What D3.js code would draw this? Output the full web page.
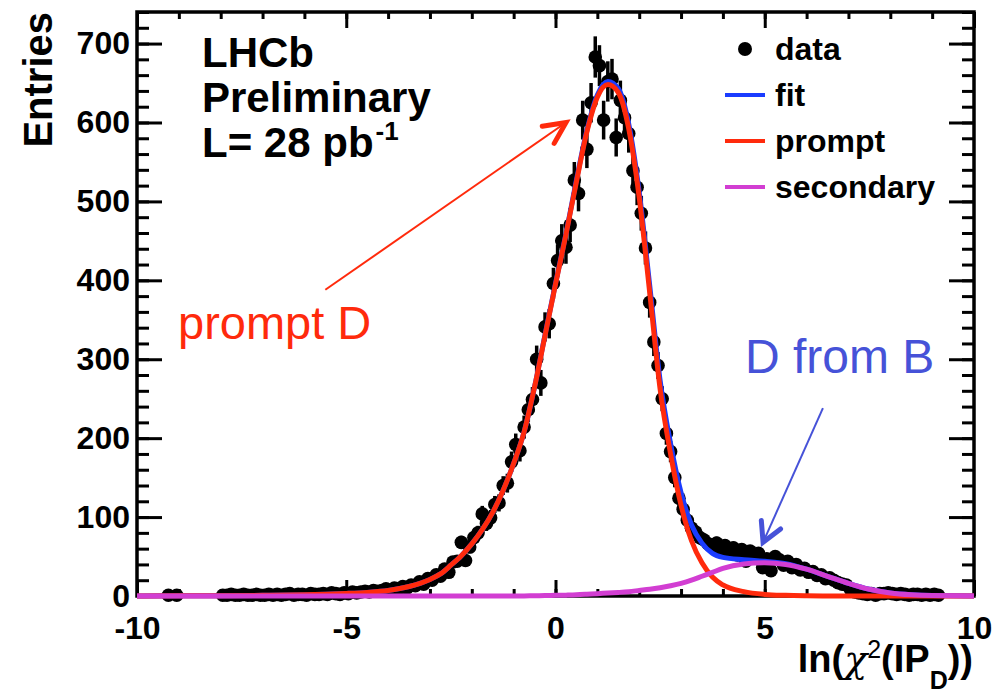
<!DOCTYPE html>
<html><head><meta charset="utf-8">
<script src="https://cdn.jsdelivr.net/npm/d3@7"></script>
<style>
body{margin:0;background:#fff}
svg{display:block}
text{font-family:"Liberation Sans",Arial,Helvetica,sans-serif}
</style>
</head><body>
<svg id="c" width="1002" height="696"></svg>
<script>
// ---------------- data ----------------
// histogram: bin centres start at binStart, width binWidth
const binStart = -9.35;
const binWidth = 0.1;
const dataCounts = [
  0,1,0,1,0,0,0,0,0,0,
  0,0,0,0,1,1,2,1,1,2,
  1,1,2,1,1,2,1,2,1,2,
  3,1,2,2,1,3,2,2,3,2,
  4,3,2,4,3,5,4,5,6,5,
  7,6,7,9,7,10,9,12,10,14,
  13,18,15,22,20,27,25,34,30,43,
  44,68,45,62,74,80,104,92,99,116,
  118,140,143,170,192,184,214,236,249,300,
  270,341,345,396,425,450,442,470,527,510,
  603,566,625,683,672,603,652,655,581,628,
  606,586,539,518,485,441,372,322,292,250,
  206,183,150,124,110,96,86,81,74,71,
  66,63,67,58,64,56,61,52,59,44,
  57,52,54,36,47,32,50,46,39,44,
  36,40,33,35,30,31,26,27,22,23,
  20,17,15,14,8,5,4,3,2,3,
  1,3,3,4,3,2,3,2,1,2,
  2,1,2,1,2,1
];
// fitted curves sampled at curveX
const curveX = [-10,-9,-8,-7,-6,-5.5,-5,-4.5,-4,-3.5,-3,-2.75,-2.5,-2.25,-2,-1.75,-1.5,-1.25,-1,-0.75,-0.5,-0.25,0,0.25,0.5,0.75,1,1.25,1.5,1.75,2,2.25,2.5,2.75,3,3.25,3.5,3.75,4,4.5,5,5.5,6,6.5,7,7.5,8,8.5,9,10];
const fitY = [0,0.2,0.4,0.8,1.5,2.2,3.2,4.6,7,12,21,28,39,51,66,84,106,134,168,208,265,331,396,459,527,590,635,652,643,598,512,394,273,193,131,90,67,54,49,46,44,41,34,25,16,8.5,3.8,1.5,0.5,0];
const promptY = [0,0.2,0.4,0.8,1.5,2.2,3.2,4.6,7,12,21,28,39,51,66,84,106,134,168,208,265,330,395,458,525,588,632,648,638,592,505,385,262,180,115,70,42,24,14,5.5,2,0.8,0.3,0.1,0,0,0,0,0,0];
const secondaryY = [0,0,0,0,0,0,0,0,0,0,0,0,0,0,0,0,0,0,0,0.1,0.3,0.5,0.8,1.1,1.5,2.2,3,3.7,4.5,5.5,7,8.5,10.5,13,16,20,25,30,35,40.5,42,40,34,25,16,8.5,3.8,1.5,0.5,0];

const xMajorTicks = [-10,-5,0,5,10];
const xMinorTicks = [-10,-9,-8,-7,-6,-5,-4,-3,-2,-1,0,1,2,3,4,5,6,7,8,9,10];
const yMajorTicks = [0,100,200,300,400,500,600,700];
const yMinorTicks = d3.range(0,741,20);
const legendLabels = ["data","fit","prompt","secondary"];
const headerLines = ["LHCb","Preliminary","L= 28 pb"];

const colFit = "#1a3cff", colPrompt = "#ff2a0c", colSec = "#d23ed2";
const colBlueNote = "#4652d8";

// ---------------- drawing ----------------
const svg = d3.select("#c");
const L = 137, R = 974, T = 12, B = 596;
const x = d3.scaleLinear().domain([-10,10]).range([L,R]);
const y = d3.scaleLinear().domain([0,740]).range([B,T]);

const data = dataCounts.map((v,i)=>({x: binStart + i*binWidth, v}))
  .filter(d=>d.v>0);

// frame
svg.append("rect").attr("x",L).attr("y",T).attr("width",R-L).attr("height",B-T)
  .attr("fill","none").attr("stroke","#000").attr("stroke-width",3.5);

const fmt = d=>String(d);
function styleAxis(g){
  g.select(".domain").remove();
  g.selectAll(".tick line").attr("stroke","#000").attr("stroke-width",3);
  g.selectAll("text").attr("fill","#000").attr("font-size",32).attr("font-weight","bold")
   .style("font-family",'"Liberation Sans",Arial,Helvetica,sans-serif');
}
// bottom
svg.append("g").attr("transform",`translate(0,${B})`)
  .call(d3.axisBottom(x).tickValues(xMinorTicks).tickSizeInner(-7).tickSizeOuter(0).tickFormat(""))
  .call(styleAxis);
svg.append("g").attr("transform",`translate(0,${B})`)
  .call(d3.axisBottom(x).tickValues(xMajorTicks).tickSizeInner(-16).tickSizeOuter(0).tickPadding(20).tickFormat(fmt))
  .call(styleAxis);
// top
svg.append("g").attr("transform",`translate(0,${T})`)
  .call(d3.axisTop(x).tickValues(xMinorTicks).tickSizeInner(-7).tickSizeOuter(0).tickFormat(""))
  .call(styleAxis);
svg.append("g").attr("transform",`translate(0,${T})`)
  .call(d3.axisTop(x).tickValues(xMajorTicks).tickSizeInner(-16).tickSizeOuter(0).tickFormat(""))
  .call(styleAxis);
// left
svg.append("g").attr("transform",`translate(${L},0)`)
  .call(d3.axisLeft(y).tickValues(yMinorTicks).tickSizeInner(-12).tickSizeOuter(0).tickFormat(""))
  .call(styleAxis);
svg.append("g").attr("transform",`translate(${L},0)`)
  .call(d3.axisLeft(y).tickValues(yMajorTicks).tickSizeInner(-25).tickSizeOuter(0).tickPadding(7).tickFormat(fmt))
  .call(styleAxis);
// right
svg.append("g").attr("transform",`translate(${R},0)`)
  .call(d3.axisRight(y).tickValues(yMinorTicks).tickSizeInner(-12).tickSizeOuter(0).tickFormat(""))
  .call(styleAxis);
svg.append("g").attr("transform",`translate(${R},0)`)
  .call(d3.axisRight(y).tickValues(yMajorTicks).tickSizeInner(-25).tickSizeOuter(0).tickFormat(""))
  .call(styleAxis);

// data points with error bars
const gd = svg.append("g");
gd.selectAll("line.err").data(data).join("line").attr("class","err")
  .attr("x1",d=>x(d.x)).attr("x2",d=>x(d.x))
  .attr("y1",d=>y(d.v-Math.sqrt(d.v))).attr("y2",d=>y(d.v+Math.sqrt(d.v)))
  .attr("stroke","#000").attr("stroke-width",3.5);
gd.selectAll("circle").data(data).join("circle")
  .attr("cx",d=>x(d.x)).attr("cy",d=>y(d.v)).attr("r",6.8).attr("fill","#000");

// curves
const line = d3.line().x(d=>x(d[0])).y(d=>y(d[1])).curve(d3.curveMonotoneX);
function curve(ys,col,w){
  svg.append("path").datum(curveX.map((cx,i)=>[cx,ys[i]]))
    .attr("d",line).attr("fill","none").attr("stroke",col).attr("stroke-width",w)
    .attr("stroke-linejoin","round");
}
curve(fitY,colFit,5);
curve(promptY,colPrompt,5);
curve(secondaryY,colSec,5);

// header text
const hdr = svg.append("text").attr("x",202).attr("y",67).attr("font-size",42).attr("font-weight","bold");
headerLines.forEach((t,i)=>{
  hdr.append("tspan").attr("x",202).attr("y",67+45*i).text(t);
});
hdr.append("tspan").attr("font-size",26).attr("dx",2).attr("dy",-17).text("-1");

// legend
const lg = svg.append("g");
const legY = [49,95,141,187];
lg.append("circle").attr("cx",745).attr("cy",legY[0]).attr("r",7).attr("fill","#000");
[colFit,colPrompt,colSec].forEach((c,i)=>{
  lg.append("line").attr("x1",725).attr("x2",765).attr("y1",legY[i+1]).attr("y2",legY[i+1])
    .attr("stroke",c).attr("stroke-width",4);
});
legendLabels.forEach((t,i)=>{
  lg.append("text").attr("x",775).attr("y",legY[i]+11).attr("font-size",32)
    .attr("font-weight","bold").text(t);
});

// axis titles
svg.append("text").attr("transform","translate(52,12) rotate(-90)")
  .attr("text-anchor","end").attr("font-size",40).attr("font-weight","bold").text("Entries");

const xt = svg.append("text").attr("x",973).attr("y",672).attr("text-anchor","end")
  .attr("font-size",38).attr("font-weight","bold");
xt.append("tspan").text("ln(");
xt.append("tspan").attr("font-weight","normal").attr("font-style","italic")
  .style("font-family",'"DejaVu Serif",serif').text("χ");
xt.append("tspan").attr("font-size",25).attr("font-weight","normal").attr("dy",-14).text("2");
xt.append("tspan").attr("dy",14).text("(IP");
xt.append("tspan").attr("font-size",25).attr("dy",17).text("D");
xt.append("tspan").attr("dy",-17).text("))");

// annotations
function arrow(from,to,col,w,headLen,headAng,headW){
  const x1=x(from[0]),y1=y(from[1]),x2=x(to[0]),y2=y(to[1]);
  svg.append("line").attr("x1",x1).attr("y1",y1).attr("x2",x2).attr("y2",y2)
    .attr("stroke",col).attr("stroke-width",w);
  const a = Math.atan2(y1-y2,x1-x2);
  const p1=[x2+headLen*Math.cos(a+headAng), y2+headLen*Math.sin(a+headAng)];
  const p2=[x2+headLen*Math.cos(a-headAng), y2+headLen*Math.sin(a-headAng)];
  svg.append("path").attr("d",`M${p1[0]},${p1[1]}L${x2},${y2}L${p2[0]},${p2[1]}`)
    .attr("fill","none").attr("stroke",col).attr("stroke-width",headW)
    .attr("stroke-linecap","round").attr("stroke-linejoin","miter");
}
arrow([-5.5,388],[0.25,600],colPrompt,2,24,0.45,5);
arrow([6.39,238],[4.96,68],colBlueNote,2,22,0.5,5);

svg.append("text").attr("x",178).attr("y",339).attr("font-size",47).attr("fill",colPrompt).text("prompt D");
svg.append("text").attr("x",745).attr("y",373).attr("font-size",48).attr("fill",colBlueNote).text("D from B");
</script>
</body></html>
